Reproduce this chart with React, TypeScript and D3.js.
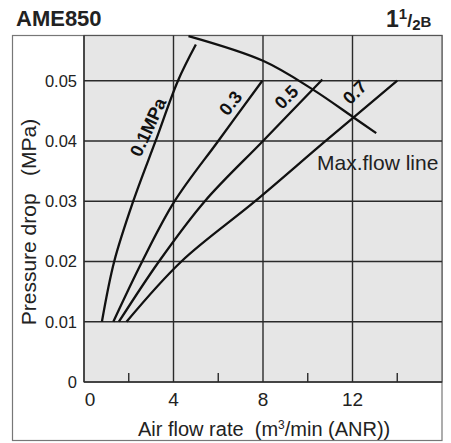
import * as d3 from "d3";
import { useEffect } from "react";

// chart size
const W = 451;
const H = 443;

// axis values
const xMajor = [4, 8, 12];
const xMinor = [2, 6, 10, 14];
const xLabels = [0, 4, 8, 12];
const yTicks = [0, 0.01, 0.02, 0.03, 0.04, 0.05];

// pressure curves: [flow m3/min, pressure drop MPa]
const p01 = [[0.8, 0.01], [1.35, 0.02], [2.2, 0.03], [3.2, 0.04], [4.2, 0.05], [5.0, 0.056]];
const p03 = [[1.31, 0.01], [2.6, 0.02], [4.05, 0.03], [6.0, 0.04], [7.97, 0.05]];
const p05 = [[1.56, 0.01], [3.35, 0.02], [5.4, 0.03], [8.0, 0.04], [10.6, 0.05], [10.65, 0.0502]];
const p07 = [[1.9, 0.01], [4.35, 0.02], [7.65, 0.03], [10.8, 0.04], [14.0, 0.05]];
const maxFlow = [[4.67, 0.0574], [8.0, 0.0533], [10.2, 0.0486], [12.05, 0.0439], [13.06, 0.0413]];

// curve labels: text, anchor [flow, MPa], angle
const curveLabels = [
  { text: "0.1MPa", at: [2.86, 0.0423], angle: -65 },
  { text: "0.3", at: [6.55, 0.0463], angle: -52 },
  { text: "0.5", at: [9.04, 0.0473], angle: -45 },
  { text: "0.7", at: [12.1, 0.0481], angle: -45 },
];

const FONT = "Liberation Sans, Arial, Helvetica, sans-serif";

export default function App() {
  useEffect(() => {
    document.body.style.margin = "0";
  }, []);

  const x = d3.scaleLinear().domain([0, 16]).range([84, 442]);
  const y = d3.scaleLinear().domain([0, 0.05]).range([382, 80.7]);
  const yTop = y(0.0575);

  const line = d3
    .line<number[]>()
    .x((d) => x(d[0]))
    .y((d) => y(d[1]))
    .curve(d3.curveCatmullRom.alpha(0.5));

  const curves = [p01, p03, p05, p07];

  return (
    <svg width={W} height={H} style={{ display: "block", fontFamily: FONT }}>
      <rect x={0} y={0} width={W} height={H} fill="#fff" />
      {/* outer frame */}
      <rect x={12.5} y={yTop} width={x(16) - 12.5} height={440.5 - yTop} fill="#fff" stroke="#777" strokeWidth={1.2} />
      {/* plot area */}
      <rect x={x(0)} y={yTop} width={x(16) - x(0)} height={y(0) - yTop} fill="#e6e6e6" stroke="#555" strokeWidth={1.2} />

      {yTicks.slice(1).map((t) => (
        <line key={t} x1={x(0)} x2={x(16)} y1={y(t)} y2={y(t)} stroke="#2a2a2a" strokeWidth={1.4} />
      ))}
      {xMajor.map((t) => (
        <line key={t} x1={x(t)} x2={x(t)} y1={yTop} y2={y(0)} stroke="#2a2a2a" strokeWidth={1.4} />
      ))}
      {xMinor.map((t) => (
        <line key={t} x1={x(t)} x2={x(t)} y1={y(0)} y2={y(0) - 9} stroke="#2a2a2a" strokeWidth={1.4} />
      ))}
      <line x1={x(0)} x2={x(16)} y1={y(0)} y2={y(0)} stroke="#2a2a2a" strokeWidth={1.6} />
      <line x1={x(0)} x2={x(0)} y1={yTop} y2={y(0)} stroke="#2a2a2a" strokeWidth={1.4} />

      {curves.map((c, i) => (
        <path key={i} d={line(c) ?? ""} fill="none" stroke="#111" strokeWidth={2.3} />
      ))}
      <path d={line(maxFlow) ?? ""} fill="none" stroke="#111" strokeWidth={2.3} />

      {curveLabels.map((l) => (
        <text
          key={l.text}
          transform={`translate(${x(l.at[0])},${y(l.at[1])}) rotate(${l.angle})`}
          textAnchor="middle"
          dy="0.35em"
          fontSize={18}
          fontWeight="bold"
          fill="#111"
        >
          {l.text}
        </text>
      ))}
      <text x={317} y={170} fontSize={21} fill="#222">Max.flow line</text>

      {/* y ticks */}
      {yTicks.map((t) => (
        <text key={t} x={77} y={y(t)} dy="0.36em" textAnchor="end" fontSize={16.5} fill="#222">
          {t === 0 ? "0" : t.toFixed(2)}
        </text>
      ))}
      {/* x ticks */}
      {xLabels.map((t) => (
        <text key={t} x={x(t) + (t === 0 ? 6 : 0)} y={406} textAnchor="middle" fontSize={19} fill="#222">
          {t}
        </text>
      ))}

      {/* axis titles */}
      <text x={138} y={436} fontSize={20} fill="#222">
        Air flow rate{"\u00a0\u00a0"}(m
        <tspan fontSize={12} dy={-7}>3</tspan>
        <tspan dy={7}>/min (ANR))</tspan>
      </text>
      <text transform="translate(36,222) rotate(-90)" textAnchor="middle" fontSize={21} fill="#222">
        Pressure drop{"\u00a0\u00a0\u00a0"}(MPa)
      </text>

      {/* headers */}
      <text x={16} y={26} fontSize={22} fontWeight="bold" fill="#222">AME850</text>
      <text x={386} y={27} fontSize={23} fontWeight="bold" fill="#222">
        1
        <tspan fontSize={15} dy={-8}>1</tspan>
        <tspan fontSize={18} dy={8}>/</tspan>
        <tspan fontSize={15} dy={3}>2</tspan>
        <tspan fontSize={15} dy={-3}>B</tspan>
      </text>
    </svg>
  );
}
